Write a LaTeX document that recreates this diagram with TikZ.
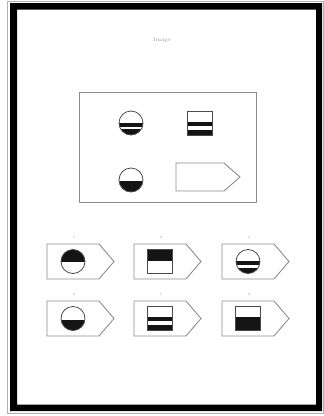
\documentclass[tikz,border=0pt]{standalone}
\usepackage{tikz}
\usetikzlibrary{positioning,calc}
\definecolor{linec}{HTML}{8C8C8C}
\definecolor{iconc}{HTML}{4A4A4A}
\definecolor{inkc}{HTML}{141414}
\definecolor{labc}{HTML}{9A9A9A}

% icons, drawn round (0,0), y pointing down
\newcommand{\iconcircstripe}{%
  \begin{scope}
    \clip (0,0) circle (12pt);
    \fill[inkc] (-13,-0.5) rectangle (13,3.8);
    \fill[inkc] (-13,6.2) rectangle (13,13);
  \end{scope}
  \draw[iconc,line width=0.8pt] (0,0) circle (12pt);}
\newcommand{\iconcirchalf}{%
  \begin{scope}
    \clip (0,0) circle (12pt);
    \fill[inkc] (-13,1) rectangle (13,13);
  \end{scope}
  \draw[iconc,line width=0.8pt] (0,0) circle (12pt);}
\newcommand{\iconcirctop}{%
  \begin{scope}
    \clip (0,0) circle (12pt);
    \fill[inkc] (-13,-13) rectangle (13,0);
  \end{scope}
  \draw[iconc,line width=0.8pt] (0,0) circle (12pt);}
\newcommand{\iconsqstripe}{%
  \fill[inkc] (-12.5,-1.5) rectangle (12.5,2.5);
  \fill[inkc] (-12.5,6.5) rectangle (12.5,12);
  \draw[iconc,line width=0.9pt] (-12.5,-12) rectangle (12.5,12);}
\newcommand{\iconsqtop}{%
  \fill[inkc] (-12.5,-12) rectangle (12.5,-1);
  \draw[iconc,line width=0.9pt] (-12.5,-12) rectangle (12.5,12);}
\newcommand{\iconsqhalf}{%
  \fill[inkc] (-12.5,-1.5) rectangle (12.5,12);
  \draw[iconc,line width=0.9pt] (-12.5,-12) rectangle (12.5,12);}

\begin{document}
\begin{tikzpicture}[x=1pt,y=-1pt,
  boxline/.style={draw=linec,line width=0.9pt},
  lab/.style={font=\fontsize{3.5}{4}\selectfont,text=labc,inner sep=0pt},
]
\fill[white] (0,0) rectangle (324,416);
\useasboundingbox (0,0) rectangle (324,416);
% frame
\draw[gray!60,line width=0.8pt] (7.5,1) rectangle (323.5,413.5);
\fill[black,even odd rule] (10,3) rectangle (322,411)
                           (17,9.5) rectangle (316,404.5);
\node[font=\fontsize{5.5}{6}\selectfont,text=labc] (title) at (162,40) {Image};

% the problem
\draw[boxline] (79,92.5) rectangle (256,202);
\begin{scope}[shift={(131,123)}] \iconcircstripe \end{scope}
\begin{scope}[shift={(200,123.5)}] \iconsqstripe \end{scope}
\begin{scope}[shift={(131,180)}] \iconcirchalf \end{scope}
\draw[boxline] (176,163) -- (224,163) -- (240,177) -- (224,191)
  -- (176,191) -- cycle;

% the choices
\foreach \x/\y/\n/\ic in {47/244/1/circtop, 134/244/2/sqtop,
    222/244/3/circstripe, 47/301/4/circhalf, 134/301/5/sqstripe,
    222/301/6/sqhalf}{
  \draw[boxline] (\x,\y) -- ++(52,0) -- ++(15,17.5) -- ++(-15,17.5)
    -- ++(-52,0) -- cycle;
  \node[lab] (lab\n) at (\x+27,\y-7) {\n};
  \begin{scope}[shift={(\x+26,\y+17.5)}] \csname icon\ic\endcsname \end{scope}
}
\end{tikzpicture}
\end{document}
